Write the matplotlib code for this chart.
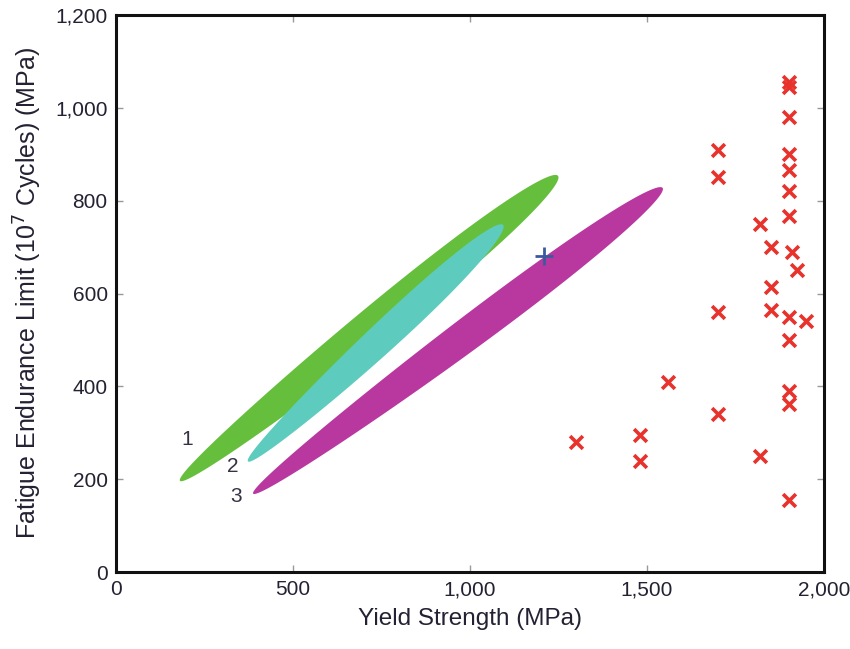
import numpy as np
import matplotlib
matplotlib.use("Agg")
from matplotlib import pyplot as plt

plt.rcParams['font.family'] = ['Liberation Sans', 'DejaVu Sans']

# scatter data (yield strength, fatigue limit), MPa
xs = [1300, 1480, 1480, 1560, 1700, 1700, 1700, 1700, 1820, 1820, 1850, 1850, 1850,
      1900, 1900, 1900, 1900, 1900, 1900, 1910, 1925, 1900, 1900, 1950, 1900, 1900, 1900]
ys = [280, 295, 240, 410, 910, 850, 560, 340, 750, 250, 700, 615, 565,
      1055, 1045, 980, 900, 865, 820, 690, 650, 550, 500, 540, 390, 362, 155]
xs2 = [1900]
ys2 = [768]

# blue marker
plus_x = [1210]
plus_y = [680]

# bands: lower tip, upper tip, vertical half thickness
bands = {
    '1': dict(lo=(180, 198), hi=(1250, 850), h=50, color='#66bf3c'),
    '2': dict(lo=(372, 240), hi=(1095, 744), h=43, color='#5ecbbf'),
    '3': dict(lo=(387, 170), hi=(1545, 825), h=44, color='#b8389f'),
}
label_pos = {'1': (200, 285), '2': (330, 228), '3': (340, 162)}

fig = plt.figure(figsize=(8.5, 6.49), dpi=100)
ax = fig.add_axes([0.1365, 0.1186, 0.8329, 0.8583])

t = np.linspace(0, 2*np.pi, 400)
for k in ['1', '2', '3']:
    b = bands[k]
    cx = (b['lo'][0] + b['hi'][0]) / 2
    cy = (b['lo'][1] + b['hi'][1]) / 2
    ax_x = (b['hi'][0] - b['lo'][0]) / 2
    ax_y = (b['hi'][1] - b['lo'][1]) / 2
    px = cx + np.cos(t)*ax_x
    py = cy + np.cos(t)*ax_y + np.sin(t)*b['h']*(1 + 0.2*np.cos(t))
    ax.fill(px, py, color=b['color'], lw=0, zorder=2)
    ax.text(label_pos[k][0], label_pos[k][1], k, fontsize=15, color='#333344',
            ha='center', va='center', zorder=3)

ax.scatter(xs + xs2, ys + ys2, marker='x', s=85, linewidths=2.6, color='#e8322c', zorder=4)
ax.plot(plus_x, plus_y, marker='+', ms=13, mew=2, color='#3a5aa0', ls='none', zorder=5)

ax.set_xlim(0, 2000)
ax.set_ylim(0, 1200)
ax.set_xticks([0, 500, 1000, 1500, 2000])
ax.set_xticklabels(['0', '500', '1,000', '1,500', '2,000'])
ax.set_yticks([0, 200, 400, 600, 800, 1000, 1200])
ax.set_yticklabels(['0', '200', '400', '600', '800', '1,000', '1,200'])
ax.tick_params(direction='in', length=5, width=1, color='#999999', labelsize=15,
               labelcolor='#222233', top=True, right=True, pad=6)
for s in ax.spines.values():
    s.set_linewidth(2.2)
    s.set_color('#111111')

ax.set_xlabel('Yield Strength (MPa)', fontsize=17.5, color='#222233', labelpad=6)
ax.set_ylabel('Fatigue Endurance Limit (10$^7$ Cycles) (MPa)', fontsize=18,
              color='#222233', labelpad=8)

fig.savefig('out.png', dpi=100)
